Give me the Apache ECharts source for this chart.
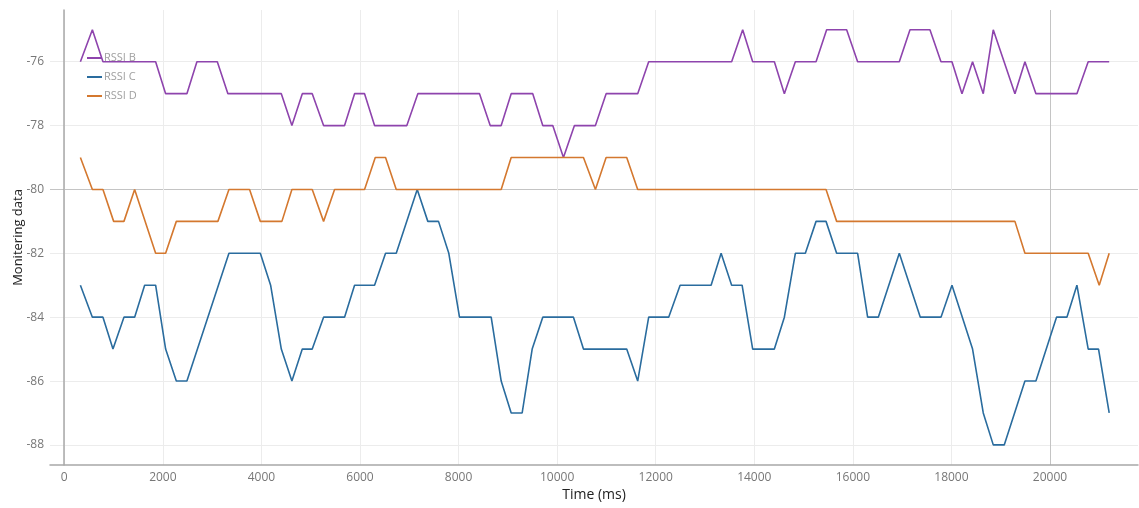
<!DOCTYPE html>
<html>
<head>
<meta charset="utf-8">
<script src="https://cdn.jsdelivr.net/npm/echarts@6/dist/echarts.min.js"></script>
<style>
html,body{margin:0;padding:0;background:#fff;}
#chart{width:1139px;height:508px;}
</style>
</head>
<body>
<div id="chart"></div>
<script>
// ---- data (time in ms, RSSI values) ----
const seriesNames = ['RSSI B', 'RSSI C', 'RSSI D'];
const xTickLabels = [0, 2000, 4000, 6000, 8000, 10000, 12000, 14000, 16000, 18000, 20000];
const yTickLabels = [-88, -86, -84, -82, -80, -78, -76];

const bTime = [333,576,791,1860,2063,2495,2698,3112,3327,4411,4626,4837,5039,5269,5695,5898,6101,6304,6959,7182,8434,8651,8874,9077,9515,9718,9921,10138,10361,10787,11004,11645,11868,13552,13776,13979,14419,14622,14845,15265,15480,15886,16109,16955,17172,17577,17801,18024,18227,18442,18659,18862,19302,19505,19728,20560,20789,21215];
const bVal  = [-76,-75,-76,-76,-77,-77,-76,-76,-77,-77,-78,-77,-77,-78,-78,-77,-77,-78,-78,-77,-77,-78,-78,-77,-77,-78,-78,-79,-78,-78,-77,-77,-76,-76,-75,-76,-76,-77,-76,-76,-75,-75,-76,-76,-75,-75,-76,-76,-77,-76,-77,-75,-77,-76,-77,-77,-76,-76];

const cTime = [333,576,791,994,1217,1434,1637,1860,2063,2280,2495,3348,3985,4194,4411,4626,4837,5039,5269,5695,5898,6304,6527,6744,7170,7385,7602,7811,8028,8671,8874,9077,9300,9503,9718,10341,10544,11422,11645,11868,12274,12506,13135,13338,13552,13764,13979,14419,14622,14845,15048,15265,15468,15683,16109,16312,16529,16955,17381,17801,18024,18442,18659,18862,19085,19505,19728,20146,20357,20560,20789,20999,21215];
const cVal  = [-83,-84,-84,-85,-84,-84,-83,-83,-85,-86,-86,-82,-82,-83,-85,-86,-85,-85,-84,-84,-83,-83,-82,-82,-80,-81,-81,-82,-84,-84,-86,-87,-87,-85,-84,-84,-85,-85,-86,-84,-84,-83,-83,-82,-83,-83,-85,-85,-84,-82,-82,-81,-81,-82,-82,-84,-84,-82,-84,-84,-83,-85,-87,-88,-88,-86,-86,-84,-84,-83,-85,-85,-87];

const dTime = [333,576,791,1008,1217,1434,1860,2063,2280,3124,3348,3767,3985,4423,4626,5039,5269,5492,6101,6318,6527,6744,8874,9077,10544,10787,11004,11422,11645,15468,15683,19302,19505,20789,21013,21215];
const dVal  = [-79,-80,-80,-81,-81,-80,-82,-82,-81,-81,-80,-80,-81,-81,-80,-80,-81,-80,-80,-79,-79,-80,-80,-79,-79,-80,-79,-79,-80,-80,-81,-81,-82,-82,-83,-82];

const colors = ['#8E44AD', '#2A6C9E', '#D4782F'];

function pairs(t, v) { return t.map((x, i) => [x, v[i]]); }

const FONT = "'Open Sans', 'Noto Sans', sans-serif";
const chart = echarts.init(document.getElementById('chart'), null, {renderer: 'canvas'});

const ySplitColors = yTickLabels.map(v => v === -80 ? '#c4c4c4' : '#ececec');
const xSplitColors = xTickLabels.map(v => v === 20000 ? '#c4c4c4' : '#ececec');

chart.setOption({
  animation: false,
  backgroundColor: '#fff',
  color: colors,
  textStyle: {fontFamily: FONT},
  legend: {
    orient: 'vertical',
    left: 82, top: 46,
    icon: 'rect', itemWidth: 15, itemHeight: 2, itemGap: 5,
    textStyle: {color: '#a0a0a0', fontSize: 11, fontFamily: FONT, lineHeight: 14, padding: [0,0,0,-3]},
    data: seriesNames
  },
  grid: [
    {left: 50, right: 1, top: 10, bottom: 43},
    {left: 50, right: 1, top: 61.7, bottom: 63},
    {left: 64.3, right: 89, top: 10, bottom: 43}
  ],
  xAxis: [
    {type: 'value', gridIndex: 0, min: -284, max: 21800,
     axisLine: {show: true, lineStyle: {color: '#a8a8a8', width: 1.5}},
     axisTick: {show: false}, axisLabel: {show: false}, splitLine: {show: false},
     name: 'Time (ms)', nameLocation: 'middle', nameGap: 23,
     nameTextStyle: {color: '#222', fontSize: 14, fontFamily: FONT}},
    {type: 'value', gridIndex: 1, min: 0, max: 1, show: false},
    {type: 'value', gridIndex: 2, min: 0, max: 20000, interval: 2000,
     axisLine: {show: false}, axisTick: {show: false},
     axisLabel: {color: '#777', fontSize: 12, margin: 7, fontFamily: FONT,
                 formatter: v => String(v)},
     splitLine: {show: true, lineStyle: {color: xSplitColors, width: 1}}}
  ],
  yAxis: [
    {type: 'value', gridIndex: 0, min: -88.63, max: -74.38,
     axisLine: {show: true, lineStyle: {color: '#a8a8a8', width: 1.5}},
     axisTick: {show: false}, axisLabel: {show: false}, splitLine: {show: false},
     name: 'Monitering data', nameLocation: 'middle', nameGap: 25,
     nameTextStyle: {color: '#222', fontSize: 13, fontFamily: FONT}},
    {type: 'value', gridIndex: 1, min: -88, max: -76, interval: 2,
     axisLine: {show: false}, axisTick: {show: false},
     axisLabel: {color: '#777', fontSize: 12, margin: 6, fontFamily: FONT},
     splitLine: {show: true, lineStyle: {color: ySplitColors, width: 1}}},
    {type: 'value', gridIndex: 2, min: 0, max: 1, show: false}
  ],
  series: [
    {name: seriesNames[0], type: 'line', xAxisIndex: 0, yAxisIndex: 0, showSymbol: false,
     lineStyle: {width: 1.6}, data: pairs(bTime, bVal)},
    {name: seriesNames[1], type: 'line', xAxisIndex: 0, yAxisIndex: 0, showSymbol: false,
     lineStyle: {width: 1.6}, data: pairs(cTime, cVal)},
    {name: seriesNames[2], type: 'line', xAxisIndex: 0, yAxisIndex: 0, showSymbol: false,
     lineStyle: {width: 1.6}, data: pairs(dTime, dVal)}
  ]
});
</script>
</body>
</html>
